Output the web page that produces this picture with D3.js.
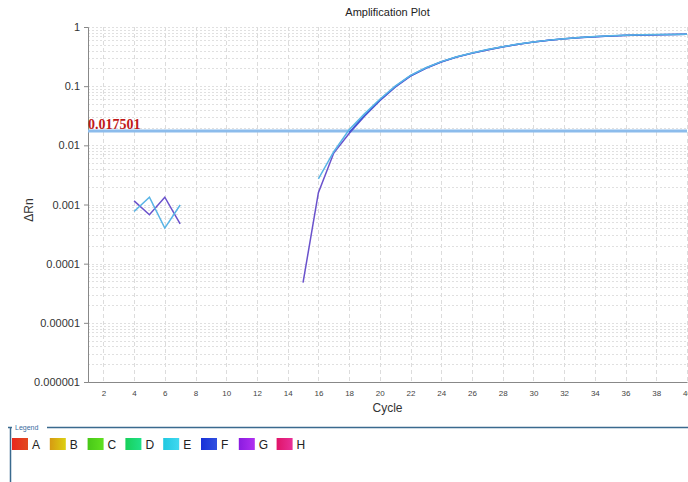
<!DOCTYPE html>
<html>
<head>
<meta charset="utf-8">
<script src="https://cdn.jsdelivr.net/npm/d3@7"></script>
<style>
  body { margin: 0; background: #fff; }
  svg { display: block; font-family: "Liberation Sans", Arial, sans-serif; }
</style>
</head>
<body>
<div id="chart"></div>
<script>
// Data
var cyclesE = [4, 5, 6, 7, 16, 17, 18, 19, 20, 21, 22, 23, 24, 25, 26, 27, 28, 29, 30, 31, 32, 33, 34, 35, 36, 37, 38, 39, 40];
var valuesE = [0.00076, 0.00133, 0.0004, 0.00098, 0.0027, 0.0078, 0.0183, 0.034, 0.060, 0.100, 0.152, 0.205, 0.26, 0.315, 0.365, 0.415, 0.465, 0.515, 0.56, 0.60, 0.635, 0.665, 0.69, 0.71, 0.725, 0.737, 0.745, 0.75, 0.755];
var cyclesG = [4, 5, 6, 7, 15, 16, 17, 18, 19, 20, 21, 22, 23, 24, 25, 26, 27, 28, 29, 30, 31, 32, 33, 34, 35, 36, 37, 38, 39, 40];
var valuesG = [0.00115, 0.00067, 0.00133, 0.00047, 0.0000477, 0.00158, 0.0074, 0.0158, 0.031, 0.057, 0.096, 0.148, 0.200, 0.255, 0.31, 0.36, 0.41, 0.46, 0.51, 0.555, 0.595, 0.63, 0.66, 0.685, 0.705, 0.72, 0.733, 0.742, 0.748, 0.752];
var cyclesF = [18, 19, 20, 21, 22, 23, 24, 25, 26, 27, 28, 29, 30, 31, 32, 33, 34, 35, 36, 37, 38, 39, 40];
var valuesF = [0.0165, 0.032, 0.058, 0.098, 0.150, 0.203, 0.258, 0.312, 0.362, 0.412, 0.462, 0.512, 0.557, 0.597, 0.632, 0.662, 0.687, 0.707, 0.722, 0.735, 0.743, 0.749, 0.753];
var threshold = 0.017501;
var yTickValues = [1, 0.1, 0.01, 0.001, 0.0001, 0.00001, 0.000001];
var yTickLabels = ["1", "0.1", "0.01", "0.001", "0.0001", "0.00001", "0.000001"];
var legendNames = ["A", "B", "C", "D", "E", "F", "G", "H"];
var legendFrom = ["#e8281c", "#d69a12", "#48c818", "#18d05a", "#20c8e0", "#1830d8", "#8a1ce0", "#e01468"];
var legendTo = ["#e24a20", "#dcd012", "#60e020", "#20e088", "#40d8f0", "#3050e0", "#b030f0", "#e83098"];

var width = 688, height = 482;
var margin = {top: 27, right: 1, bottom: 100, left: 88};
var chartWidth = width - margin.left - margin.right;
var chartHeight = 382 - margin.top;

var svg = d3.select("#chart").append("svg")
    .attr("width", width)
    .attr("height", height);

var xScale = d3.scaleLinear().domain([1, 40]).range([0, chartWidth]);
var yScale = d3.scaleLog().domain([0.000001, 1]).range([chartHeight, 0]);

var chartGroup = svg.append("g")
    .attr("transform", `translate(${margin.left}, ${margin.top})`);

// Horizontal grid: decades and minor lines
var minor = [];
for (var e = -6; e < 0; e++) {
    for (var m = 1; m < 10; m++) minor.push(m * Math.pow(10, e));
}
minor.push(1);
chartGroup.selectAll(".hgrid")
    .data(minor)
    .enter()
    .append("line")
    .attr("x1", 0)
    .attr("x2", chartWidth)
    .attr("y1", function(d) { return Math.round(yScale(d)) + 0.5; })
    .attr("y2", function(d) { return Math.round(yScale(d)) + 0.5; })
    .attr("stroke", "#e0e0e0")
    .attr("stroke-dasharray", "2,2");

// Vertical grid every 2 cycles
chartGroup.selectAll(".vgrid")
    .data(d3.range(2, 41, 2))
    .enter()
    .append("line")
    .attr("x1", function(d) { return Math.round(xScale(d)) + 0.5; })
    .attr("x2", function(d) { return Math.round(xScale(d)) + 0.5; })
    .attr("y1", 0)
    .attr("y2", chartHeight)
    .attr("stroke", "#dcdcdc")
    .attr("stroke-dasharray", "4,3");

// Axes
var yAxis = d3.axisLeft(yScale).tickValues(yTickValues)
    .tickFormat(function(d, i) { return yTickLabels[i]; })
    .tickSize(4).tickPadding(4);
var xAxis = d3.axisBottom(xScale).tickValues(d3.range(2, 41, 2))
    .tickSize(0).tickPadding(8);

var gy = chartGroup.append("g").call(yAxis);
gy.select(".domain").attr("stroke", "#888");
gy.selectAll(".tick line").attr("stroke", "#888");
gy.selectAll("text").attr("font-size", "11px").attr("fill", "#333")
    .attr("font-family", "Liberation Sans, Arial, sans-serif");

var gx = chartGroup.append("g")
    .attr("transform", `translate(0, ${chartHeight})`)
    .call(xAxis);
gx.select(".domain").attr("stroke", "#888");
gx.selectAll("text").attr("font-size", "8px").attr("fill", "#444")
    .attr("font-family", "Liberation Sans, Arial, sans-serif");

// Threshold line
chartGroup.append("line")
    .attr("x1", 0)
    .attr("x2", chartWidth)
    .attr("y1", yScale(threshold))
    .attr("y2", yScale(threshold))
    .attr("stroke", "#8cbcec")
    .attr("stroke-width", 3);

chartGroup.append("text")
    .attr("x", 0)
    .attr("y", yScale(threshold) - 2)
    .text(threshold.toString())
    .attr("font-family", "Liberation Serif, Times New Roman, serif")
    .attr("font-weight", "bold")
    .attr("font-size", "14px")
    .attr("fill", "#c01818");

// Curves, broken where the cycle sequence has a gap
function segments(cycles, values) {
    var segs = [], cur = [];
    for (var i = 0; i < cycles.length; i++) {
        if (i > 0 && cycles[i] - cycles[i - 1] > 1) { segs.push(cur); cur = []; }
        cur.push([cycles[i], values[i]]);
    }
    segs.push(cur);
    return segs;
}

var line = d3.line()
    .x(function(d) { return xScale(d[0]); })
    .y(function(d) { return yScale(d[1]); });

var series = [
    {c: cyclesG, v: valuesG, color: "#6a52cc"},
    {c: cyclesF, v: valuesF, color: "#3a5ad6"},
    {c: cyclesE, v: valuesE, color: "#58b4e6"}
];
series.forEach(function(s) {
    chartGroup.selectAll(null)
        .data(segments(s.c, s.v))
        .enter()
        .append("path")
        .attr("d", line)
        .attr("fill", "none")
        .attr("stroke", s.color)
        .attr("stroke-width", 1.5);
});

// Titles
svg.append("text")
    .attr("x", margin.left + chartWidth / 2)
    .attr("y", 16)
    .attr("text-anchor", "middle")
    .attr("font-size", "11px")
    .attr("fill", "#222")
    .text("Amplification Plot");

svg.append("text")
    .attr("x", margin.left + chartWidth / 2)
    .attr("y", 412)
    .attr("text-anchor", "middle")
    .attr("font-size", "12px")
    .attr("fill", "#333")
    .text("Cycle");

svg.append("text")
    .attr("transform", "translate(33, 210) rotate(-90)")
    .attr("text-anchor", "middle")
    .attr("font-size", "12px")
    .attr("fill", "#333")
    .text("ΔRn");

// Legend box
var legend = svg.append("g");
legend.append("path")
    .attr("d", "M8,427.5 H12 M47,427.5 H688 M10.5,427 V482")
    .attr("stroke", "#3a6a8e")
    .attr("stroke-width", 1.5)
    .attr("fill", "none");
legend.append("text")
    .attr("x", 15)
    .attr("y", 430)
    .attr("font-size", "7px")
    .attr("fill", "#3a6a9e")
    .text("Legend");

var defs = svg.append("defs");
legendNames.forEach(function(n, i) {
    var g = defs.append("linearGradient").attr("id", "lg" + i);
    g.append("stop").attr("offset", "0%").attr("stop-color", legendFrom[i]);
    g.append("stop").attr("offset", "100%").attr("stop-color", legendTo[i]);
});

var items = legend.selectAll(".item")
    .data(legendNames)
    .enter()
    .append("g")
    .attr("transform", function(d, i) { return `translate(${12 + i * 37.8}, 438)`; });
items.append("rect")
    .attr("width", 16)
    .attr("height", 12)
    .attr("fill", function(d, i) { return "url(#lg" + i + ")"; });
items.append("text")
    .attr("x", 20)
    .attr("y", 10.5)
    .attr("font-size", "12px")
    .attr("fill", "#222")
    .text(function(d) { return d; });
</script>
</body>
</html>
